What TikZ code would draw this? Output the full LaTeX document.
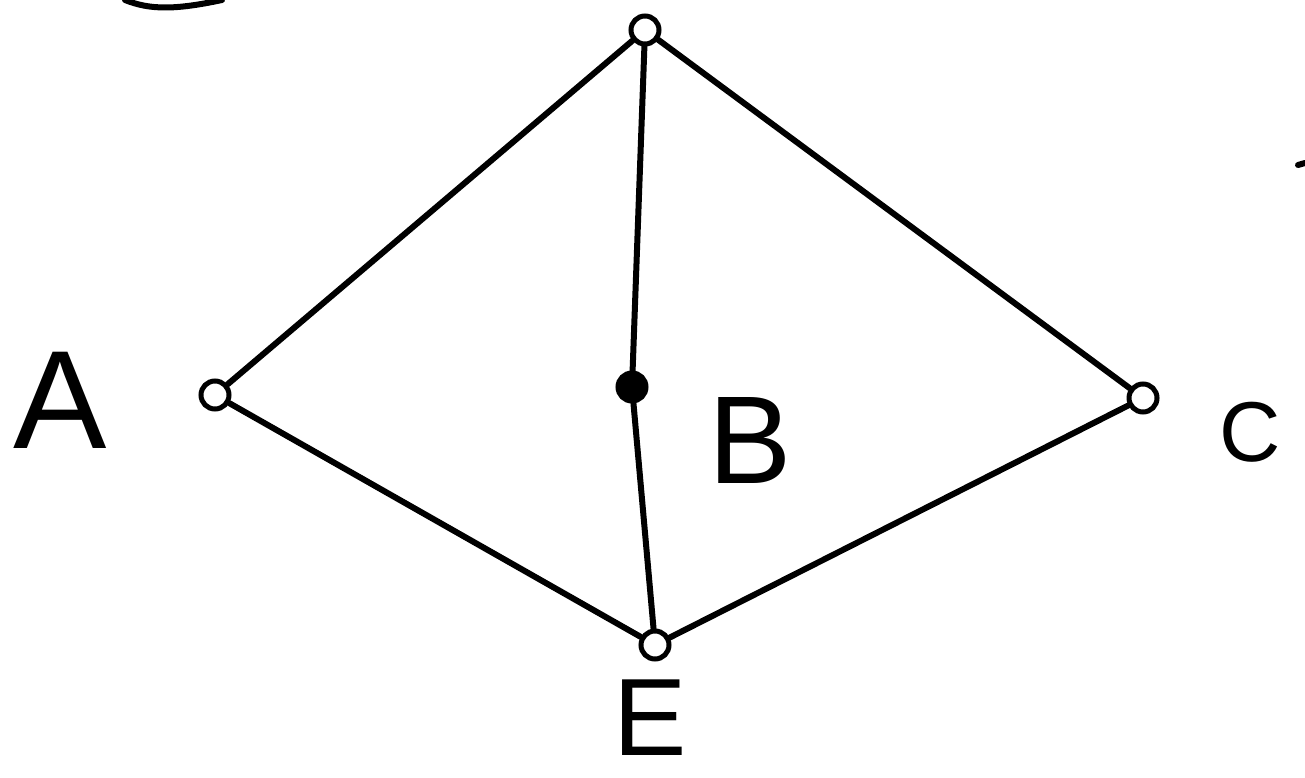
\documentclass[tikz,border=0pt]{standalone}
\usepackage{fontspec}
\setmainfont{Liberation Sans}
\begin{document}
\begin{tikzpicture}[x=1pt,y=-1pt,
  edge/.style={line width=6pt,line cap=round,line join=round},
  vtx/.style={circle,draw,line width=5pt,minimum size=28pt,inner sep=0pt},
  vtxfill/.style={vtx,fill=black},
  lbl/.style={inner sep=0pt,font=\fontsize{140}{140}\selectfont}]
\useasboundingbox (0,0) rectangle (1305,778);
\node[vtx] (D) at (645,30) {};
\node[vtx] (A) at (215,395) {};
\node[vtxfill] (B) at (632,387) {};
\node[vtx] (C) at (1143,398) {};
\node[vtx] (E) at (655,645) {};
\draw[edge] (D) -- (A);
\draw[edge] (D) -- (B);
\draw[edge] (D) -- (C);
\draw[edge] (A) -- (E);
\draw[edge] (B) -- (E);
\draw[edge] (C) -- (E);
\node[lbl] (la) at (60,400) {A};
\node[lbl,font=\fontsize{125}{125}\selectfont] (lb) at (750,440) {B};
\node[lbl,font=\fontsize{85}{85}\selectfont] (lc) at (1250,432) {C};
\node[lbl,font=\fontsize{110}{110}\selectfont] (le) at (650,718) {E};
\coordinate (t1) at (125,0);
\coordinate (t2) at (222,0);
\draw[edge] (t1) .. controls (150,10) and (175,10) .. (t2);
\coordinate (m1) at (1298,165);
\coordinate (m2) at (1305,163);
\draw[edge] (m1) -- (m2);
\end{tikzpicture}
\end{document}
